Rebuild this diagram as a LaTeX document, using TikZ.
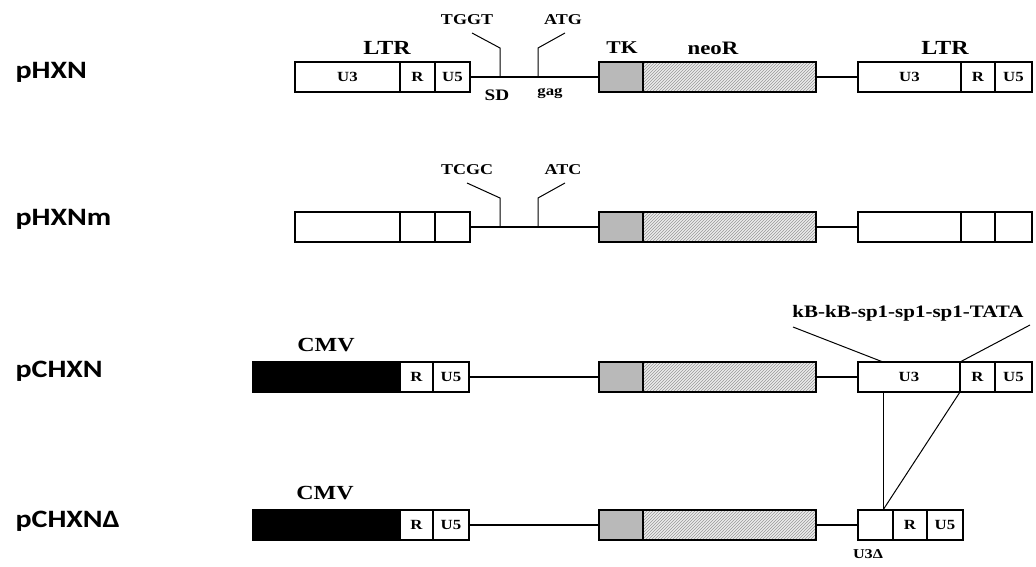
\documentclass[tikz,border=0pt]{standalone}
\usepackage{fontspec}
\setmainfont{Liberation Serif}[FakeStretch=1.2]
\newfontfamily\namefont{Carlito}[FakeStretch=1.2]
\usetikzlibrary{positioning,patterns}

\begin{document}
\begin{tikzpicture}[
  x=1pt, y=-1pt,
  seg/.style={draw, line width=1.1pt, inner sep=0pt, outer sep=0pt, minimum height=30pt, font=\bfseries\fontsize{14}{14}\selectfont},
  tkbox/.style={seg, fill=gray!55, minimum width=44pt},
  neobox/.style={seg, minimum width=173pt, preaction={fill=gray!15}, pattern=north east lines, pattern color=gray!80},
  cmvbox/.style={seg, fill=black, minimum width=147pt},
  title/.style={font=\bfseries\fontsize{20}{20}\selectfont},
  site/.style={font=\bfseries\fontsize{15}{15}\selectfont},
  plasmid/.style={anchor=base west, font=\namefont\bfseries\fontsize{25}{25}\selectfont},
  link/.style={line width=1.1pt},
  tick/.style={line width=1pt}
]
\useasboundingbox (0,0) rectangle (1036,567);

% pHXN
\node[plasmid] (pa) at (12,79) {pHXN};
\node[seg, minimum width=105pt, anchor=west] (u3a) at (295,77) {U3};
\node[seg, minimum width=35pt, right=0pt of u3a] (ra) {R};
\node[seg, minimum width=35pt, right=0pt of ra] (u5a) {U5};
\node[tkbox, anchor=west] (tka) at (599,77) {};
\node[neobox, right=0pt of tka] (neoa) {};
\node[seg, minimum width=103pt, anchor=west] (u3b) at (858,77) {U3};
\node[seg, minimum width=34pt, right=0pt of u3b] (rb) {R};
\node[seg, minimum width=37pt, right=0pt of rb] (u5b) {U5};
\node[title] (ltra) at (387,48) {LTR};
\node[title, font=\bfseries\fontsize{18}{18}\selectfont] (tk) at (622,48) {TK};
\node[title, font=\bfseries\fontsize{19}{19}\selectfont] (neo) at (713,48) {neoR};
\node[title] (ltrb) at (945,48) {LTR};
\node[site] (tggt) at (467,20) {TGGT};
\node[site] (atg) at (563,20) {ATG};
\node[font=\bfseries\fontsize{16}{16}\selectfont] (sd) at (497,95) {SD};
\node[font=\bfseries\fontsize{14}{14}\selectfont] (gag) at (550,93) {gag};
\coordinate (sda) at (500,77);
\coordinate (atga) at (538,77);
\draw[link] (u5a.east) -- (tka.west);
\draw[link] (neoa.east) -- (u3b.west);
\draw[tick] (sda) -- ++(0,-29) -- ++(-28,-15);
\draw[tick] (atga) -- ++(0,-29) -- ++(27,-15);

% pHXNm
\node[plasmid] (pb) at (12,225) {pHXNm};
\node[seg, minimum width=105pt, anchor=west] (u3c) at (295,227) {};
\node[seg, minimum width=35pt, right=0pt of u3c] (rc) {};
\node[seg, minimum width=35pt, right=0pt of rc] (u5c) {};
\node[tkbox, anchor=west] (tkb) at (599,227) {};
\node[neobox, right=0pt of tkb] (neob) {};
\node[seg, minimum width=103pt, anchor=west] (u3d) at (858,227) {};
\node[seg, minimum width=34pt, right=0pt of u3d] (rd) {};
\node[seg, minimum width=37pt, right=0pt of rd] (u5d) {};
\node[site] (tcgc) at (467,170) {TCGC};
\node[site] (atc) at (563,170) {ATC};
\coordinate (sdb) at (500,227);
\coordinate (atgb) at (538,227);
\draw[link] (u5c.east) -- (tkb.west);
\draw[link] (neob.east) -- (u3d.west);
\draw[tick] (sdb) -- ++(0,-29) -- ++(-33,-15);
\draw[tick] (atgb) -- ++(0,-29) -- ++(27,-15);

% pCHXN
\node[plasmid] (pc) at (12,377) {pCHXN};
\node[cmvbox, anchor=west] (cmva) at (253,377) {};
\node[seg, minimum width=33pt, right=0pt of cmva] (re) {R};
\node[seg, minimum width=36pt, right=0pt of re] (u5e) {U5};
\node[tkbox, anchor=west] (tkc) at (599,377) {};
\node[neobox, right=0pt of tkc] (neoc) {};
\node[seg, minimum width=102pt, anchor=west] (u3f) at (858,377) {U3};
\node[seg, minimum width=35pt, right=0pt of u3f] (rf) {R};
\node[seg, minimum width=37pt, right=0pt of rf] (u5f) {U5};
\node[title] (cmvla) at (326,345) {CMV};
\node[font=\bfseries\fontsize{17.5}{17.5}\selectfont] (sites) at (908,313) {kB-kB-sp1-sp1-sp1-TATA};
\coordinate (sitl) at (793,327);
\coordinate (sitr) at (1030,325);
\draw[link] (u5e.east) -- (tkc.west);
\draw[link] (neoc.east) -- (u3f.west);
\draw[tick] ([xshift=25pt]u3f.north west) -- (sitl);
\draw[tick] (u3f.north east) -- (sitr);

% pCHXN delta
\node[plasmid] (pd) at (12,527) {pCHXNΔ};
\node[cmvbox, anchor=west] (cmvb) at (253,525) {};
\node[seg, minimum width=33pt, right=0pt of cmvb] (rg) {R};
\node[seg, minimum width=36pt, right=0pt of rg] (u5g) {U5};
\node[tkbox, anchor=west] (tkd) at (599,525) {};
\node[neobox, right=0pt of tkd] (neod) {};
\node[seg, minimum width=35pt, anchor=west] (u3h) at (858,525) {};
\node[seg, minimum width=34pt, right=0pt of u3h] (rh) {R};
\node[seg, minimum width=36pt, right=0pt of rh] (u5h) {U5};
\node[title] (cmvlb) at (325,493) {CMV};
\node[font=\bfseries\fontsize{13.5}{13.5}\selectfont] (u3del) at (868,554) {U3Δ};
\draw[link] (u5g.east) -- (tkd.west);
\draw[link] (neod.east) -- (u3h.west);
\draw[tick] ([xshift=25pt]u3f.south west) -- ([xshift=25pt]u3h.north west);
\draw[tick] (u3f.south east) -- ([xshift=25pt]u3h.north west);
\end{tikzpicture}
\end{document}
